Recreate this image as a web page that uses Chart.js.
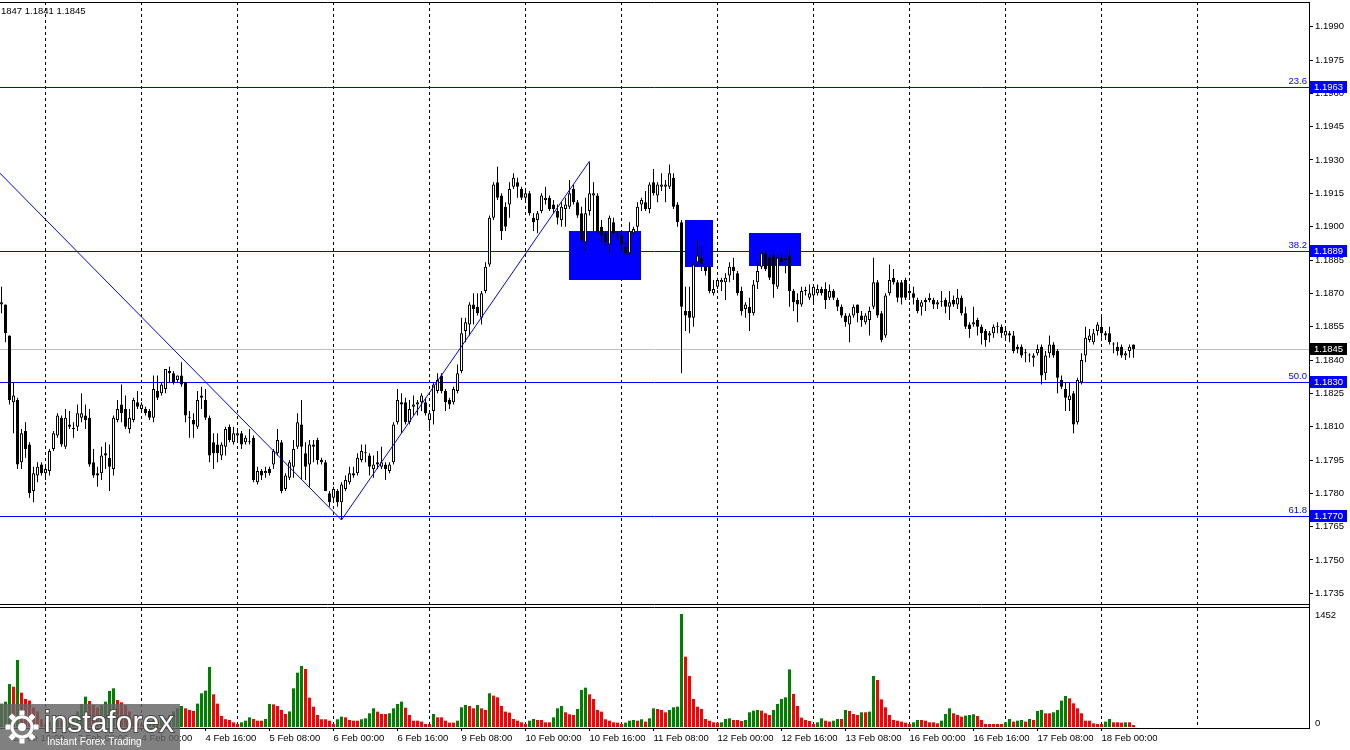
<!DOCTYPE html>
<html lang="en">
<head>
<meta charset="utf-8" />
<title>EURUSD H1</title>
<script src="https://cdn.jsdelivr.net/npm/chart.js@4.4.1/dist/chart.umd.min.js"></script>
<style>
  html, body { margin: 0; padding: 0; background: #fff; }
  canvas { display: block; }
</style>
</head>
<body>
<canvas id="chart" width="1350" height="750"></canvas>
<script>
// H1 bars from 2 Feb 13:00 to 18 Feb 08:00, one entry per bar
var opens = [
  1.1865,1.1865,1.1851,1.1821,1.1822,1.1794,1.1808,1.1802,1.1781,1.1788,1.1793,1.1789,
  1.1790,1.1800,1.1806,1.1814,1.1801,1.1811,1.1809,1.1810,1.1814,1.1815,1.1814,1.1794,
  1.1789,1.1789,1.1798,1.1796,1.1791,1.1813,1.1820,1.1818,1.1809,1.1813,1.1821,1.1818,
  1.1818,1.1817,1.1814,1.1826,1.1825,1.1827,1.1835,1.1834,1.1831,1.1833,1.1830,1.1814,
  1.1813,1.1810,1.1824,1.1822,1.1814,1.1803,1.1802,1.1797,1.1801,1.1810,1.1803,1.1806,
  1.1807,1.1803,1.1803,1.1805,1.1785,1.1790,1.1789,1.1791,1.1793,1.1798,1.1803,1.1782,
  1.1787,1.1792,1.1801,1.1811,1.1798,1.1793,1.1802,1.1804,1.1794,1.1794,1.1780,1.1778,
  1.1781,1.1776,1.1782,1.1785,1.1789,1.1789,1.1795,1.1798,1.1797,1.1791,1.1794,1.1792,
  1.1793,1.1790,1.1794,1.1812,1.1821,1.1821,1.1812,1.1819,1.1820,1.1821,1.1821,1.1813,
  1.1817,1.1826,1.1833,1.1826,1.1822,1.1821,1.1826,1.1835,1.1853,1.1856,1.1865,1.1864,
  1.1859,1.1871,1.1883,1.1904,1.1920,1.1914,1.1909,1.1910,1.1918,1.1920,1.1917,1.1913,
  1.1915,1.1904,1.1903,1.1907,1.1912,1.1913,1.1910,1.1907,1.1903,1.1908,1.1909,1.1917,
  1.1911,1.1906,1.1893,1.1907,1.1914,1.1914,1.1900,1.1897,1.1892,1.1902,1.1896,1.1896,
  1.1891,1.1888,1.1897,1.1900,1.1910,1.1911,1.1908,1.1920,1.1914,1.1918,1.1918,1.1918,
  1.1922,1.1910,1.1902,1.1862,1.1862,1.1859,1.1884,1.1886,1.1882,1.1882,1.1870,1.1873,
  1.1875,1.1875,1.1878,1.1882,1.1879,1.1871,1.1863,1.1864,1.1861,1.1875,1.1882,1.1888,
  1.1886,1.1887,1.1873,1.1886,1.1885,1.1887,1.1871,1.1867,1.1865,1.1871,1.1868,1.1869,
  1.1870,1.1872,1.1872,1.1868,1.1871,1.1867,1.1864,1.1860,1.1856,1.1860,1.1865,1.1860,
  1.1857,1.1858,1.1864,1.1875,1.1861,1.1851,1.1870,1.1877,1.1875,1.1875,1.1876,1.1870,
  1.1870,1.1867,1.1864,1.1867,1.1867,1.1867,1.1865,1.1866,1.1867,1.1864,1.1867,1.1865,
  1.1868,1.1861,1.1856,1.1856,1.1858,1.1855,1.1853,1.1851,1.1852,1.1855,1.1855,1.1851,
  1.1852,1.1851,1.1846,1.1846,1.1843,1.1842,1.1841,1.1843,1.1846,1.1834,1.1843,1.1847,
  1.1844,1.1831,1.1827,1.1822,1.1825,1.1812,1.1830,1.1842,1.1849,1.1848,1.1853,1.1855,
  1.1852,1.1852,1.1847,1.1846,1.1846,1.1842,1.1844,1.1847
];
var highs = [
  1.1873,1.1865,1.1851,1.1830,1.1823,1.1809,1.1812,1.1803,1.1792,1.1794,1.1794,1.1793,
  1.1800,1.1808,1.1816,1.1815,1.1818,1.1817,1.1812,1.1820,1.1825,1.1820,1.1818,1.1800,
  1.1792,1.1801,1.1803,1.1802,1.1815,1.1822,1.1829,1.1824,1.1818,1.1823,1.1826,1.1821,
  1.1819,1.1818,1.1833,1.1833,1.1830,1.1836,1.1837,1.1835,1.1833,1.1839,1.1830,1.1817,
  1.1816,1.1826,1.1828,1.1827,1.1815,1.1807,1.1807,1.1803,1.1810,1.1811,1.1810,1.1809,
  1.1808,1.1806,1.1809,1.1806,1.1792,1.1791,1.1792,1.1792,1.1800,1.1809,1.1804,1.1789,
  1.1795,1.1804,1.1816,1.1822,1.1803,1.1804,1.1804,1.1805,1.1796,1.1795,1.1781,1.1783,
  1.1782,1.1785,1.1788,1.1792,1.1792,1.1798,1.1802,1.1802,1.1798,1.1797,1.1799,1.1801,
  1.1794,1.1794,1.1812,1.1827,1.1825,1.1823,1.1822,1.1824,1.1822,1.1825,1.1823,1.1817,
  1.1830,1.1834,1.1834,1.1827,1.1823,1.1828,1.1838,1.1859,1.1859,1.1866,1.1870,1.1870,
  1.1871,1.1884,1.1905,1.1920,1.1927,1.1915,1.1911,1.1920,1.1924,1.1922,1.1918,1.1916,
  1.1916,1.1906,1.1907,1.1915,1.1918,1.1914,1.1912,1.1910,1.1911,1.1913,1.1921,1.1919,
  1.1912,1.1909,1.1913,1.1929,1.1920,1.1915,1.1903,1.1898,1.1905,1.1904,1.1898,1.1898,
  1.1893,1.1902,1.1900,1.1911,1.1913,1.1916,1.1920,1.1926,1.1920,1.1924,1.1921,1.1928,
  1.1924,1.1911,1.1903,1.1873,1.1873,1.1884,1.1894,1.1891,1.1883,1.1883,1.1876,1.1877,
  1.1877,1.1879,1.1884,1.1886,1.1880,1.1873,1.1866,1.1868,1.1876,1.1884,1.1889,1.1889,
  1.1887,1.1888,1.1887,1.1888,1.1887,1.1890,1.1872,1.1870,1.1873,1.1873,1.1874,1.1874,
  1.1874,1.1873,1.1875,1.1874,1.1872,1.1868,1.1865,1.1861,1.1861,1.1865,1.1865,1.1862,
  1.1861,1.1864,1.1886,1.1876,1.1862,1.1870,1.1883,1.1881,1.1876,1.1876,1.1877,1.1874,
  1.1873,1.1868,1.1867,1.1868,1.1870,1.1868,1.1867,1.1871,1.1868,1.1871,1.1869,1.1872,
  1.1869,1.1864,1.1857,1.1864,1.1859,1.1856,1.1854,1.1853,1.1856,1.1857,1.1856,1.1854,
  1.1853,1.1853,1.1847,1.1847,1.1845,1.1843,1.1843,1.1847,1.1847,1.1844,1.1851,1.1848,
  1.1845,1.1833,1.1830,1.1830,1.1826,1.1832,1.1843,1.1855,1.1854,1.1854,1.1857,1.1860,
  1.1853,1.1855,1.1848,1.1848,1.1847,1.1844,1.1847,1.1847
];
var lows = [
  1.1861,1.1848,1.1820,1.1807,1.1791,1.1791,1.1796,1.1778,1.1776,1.1785,1.1788,1.1786,
  1.1788,1.1799,1.1805,1.1801,1.1800,1.1809,1.1805,1.1808,1.1812,1.1809,1.1792,1.1787,
  1.1783,1.1786,1.1791,1.1781,1.1788,1.1812,1.1812,1.1809,1.1807,1.1812,1.1818,1.1817,
  1.1815,1.1813,1.1812,1.1822,1.1824,1.1825,1.1830,1.1829,1.1830,1.1828,1.1812,1.1805,
  1.1805,1.1809,1.1818,1.1813,1.1794,1.1791,1.1794,1.1795,1.1797,1.1803,1.1802,1.1803,
  1.1800,1.1802,1.1802,1.1785,1.1784,1.1786,1.1787,1.1788,1.1791,1.1797,1.1780,1.1781,
  1.1786,1.1787,1.1800,1.1786,1.1786,1.1783,1.1794,1.1793,1.1793,1.1781,1.1774,1.1777,
  1.1774,1.1768,1.1781,1.1784,1.1787,1.1788,1.1794,1.1794,1.1788,1.1787,1.1791,1.1791,
  1.1786,1.1789,1.1793,1.1811,1.1807,1.1811,1.1811,1.1815,1.1815,1.1817,1.1815,1.1809,
  1.1811,1.1825,1.1825,1.1817,1.1818,1.1820,1.1825,1.1834,1.1848,1.1851,1.1856,1.1860,
  1.1856,1.1870,1.1882,1.1903,1.1912,1.1894,1.1898,1.1904,1.1917,1.1913,1.1912,1.1911,
  1.1905,1.1898,1.1897,1.1906,1.1910,1.1907,1.1906,1.1901,1.1900,1.1900,1.1908,1.1910,
  1.1904,1.1893,1.1889,1.1905,1.1898,1.1897,1.1893,1.1891,1.1888,1.1896,1.1894,1.1889,
  1.1887,1.1887,1.1896,1.1898,1.1907,1.1907,1.1906,1.1914,1.1911,1.1916,1.1911,1.1917,
  1.1908,1.1900,1.1834,1.1853,1.1852,1.1855,1.1882,1.1880,1.1878,1.1870,1.1869,1.1872,
  1.1871,1.1867,1.1875,1.1876,1.1869,1.1860,1.1859,1.1853,1.1860,1.1872,1.1881,1.1880,
  1.1876,1.1868,1.1872,1.1883,1.1879,1.1864,1.1862,1.1857,1.1864,1.1869,1.1867,1.1865,
  1.1869,1.1869,1.1863,1.1867,1.1867,1.1862,1.1859,1.1855,1.1848,1.1859,1.1857,1.1855,
  1.1856,1.1851,1.1863,1.1859,1.1848,1.1850,1.1869,1.1874,1.1866,1.1865,1.1867,1.1867,
  1.1865,1.1861,1.1860,1.1862,1.1866,1.1863,1.1863,1.1864,1.1861,1.1858,1.1864,1.1863,
  1.1860,1.1854,1.1850,1.1855,1.1851,1.1847,1.1846,1.1848,1.1850,1.1852,1.1850,1.1849,
  1.1848,1.1843,1.1843,1.1841,1.1839,1.1839,1.1837,1.1842,1.1829,1.1831,1.1841,1.1841,
  1.1825,1.1827,1.1817,1.1817,1.1807,1.1811,1.1829,1.1839,1.1848,1.1847,1.1851,1.1850,
  1.1849,1.1847,1.1843,1.1842,1.1841,1.1840,1.1841,1.1841
];
var closes = [
  1.1866,1.1852,1.1822,1.1824,1.1793,1.1807,1.1800,1.1780,1.1789,1.1792,1.1789,1.1791,
  1.1799,1.1807,1.1815,1.1802,1.1814,1.1810,1.1809,1.1816,1.1816,1.1813,1.1793,1.1788,
  1.1788,1.1797,1.1797,1.1792,1.1814,1.1818,1.1816,1.1810,1.1814,1.1822,1.1819,1.1820,
  1.1816,1.1814,1.1827,1.1823,1.1829,1.1836,1.1834,1.1830,1.1833,1.1829,1.1815,1.1814,
  1.1811,1.1822,1.1823,1.1814,1.1797,1.1798,1.1798,1.1802,1.1809,1.1804,1.1807,1.1807,
  1.1802,1.1805,1.1803,1.1786,1.1790,1.1788,1.1790,1.1789,1.1799,1.1804,1.1781,1.1788,
  1.1794,1.1800,1.1812,1.1801,1.1792,1.1802,1.1801,1.1795,1.1795,1.1781,1.1776,1.1782,
  1.1776,1.1784,1.1786,1.1789,1.1788,1.1796,1.1799,1.1798,1.1792,1.1793,1.1793,1.1794,
  1.1791,1.1793,1.1811,1.1822,1.1820,1.1812,1.1818,1.1820,1.1821,1.1824,1.1816,1.1816,
  1.1829,1.1831,1.1826,1.1821,1.1820,1.1827,1.1834,1.1852,1.1857,1.1865,1.1863,1.1861,
  1.1870,1.1882,1.1904,1.1919,1.1913,1.1898,1.1900,1.1917,1.1922,1.1918,1.1913,1.1915,
  1.1906,1.1902,1.1906,1.1914,1.1913,1.1908,1.1908,1.1904,1.1909,1.1910,1.1915,1.1911,
  1.1905,1.1894,1.1906,1.1915,1.1915,1.1898,1.1896,1.1893,1.1904,1.1897,1.1896,1.1892,
  1.1888,1.1898,1.1899,1.1909,1.1912,1.1908,1.1919,1.1915,1.1919,1.1919,1.1919,1.1924,
  1.1909,1.1902,1.1864,1.1860,1.1859,1.1883,1.1887,1.1883,1.1880,1.1871,1.1872,1.1876,
  1.1876,1.1877,1.1882,1.1880,1.1870,1.1862,1.1865,1.1861,1.1874,1.1880,1.1888,1.1881,
  1.1877,1.1874,1.1886,1.1884,1.1886,1.1871,1.1866,1.1865,1.1871,1.1871,1.1870,1.1873,
  1.1872,1.1870,1.1867,1.1871,1.1868,1.1864,1.1860,1.1857,1.1860,1.1864,1.1861,1.1858,
  1.1860,1.1862,1.1875,1.1860,1.1849,1.1869,1.1876,1.1875,1.1868,1.1868,1.1868,1.1871,
  1.1868,1.1862,1.1866,1.1866,1.1868,1.1865,1.1866,1.1866,1.1864,1.1866,1.1865,1.1868,
  1.1861,1.1855,1.1854,1.1857,1.1855,1.1852,1.1849,1.1852,1.1855,1.1855,1.1852,1.1853,
  1.1851,1.1844,1.1845,1.1842,1.1843,1.1842,1.1842,1.1845,1.1833,1.1842,1.1847,1.1842,
  1.1832,1.1828,1.1823,1.1824,1.1811,1.1831,1.1840,1.1850,1.1851,1.1852,1.1856,1.1852,
  1.1851,1.1848,1.1847,1.1844,1.1842,1.1843,1.1846,1.1845
];
var volumes = [
  300,325,552,518,861,441,360,340,250,200,100,39,
  60,81,90,81,103,120,150,200,296,390,334,283,
  250,280,325,463,497,347,317,280,200,120,60,39,
  60,81,90,81,103,120,150,200,240,270,240,219,
  206,300,433,467,771,420,300,141,100,90,60,39,
  60,81,124,103,81,81,103,296,291,270,220,167,
  200,497,698,784,745,377,261,154,99,99,81,39,
  99,133,124,90,81,81,99,111,176,240,197,167,
  167,176,240,296,326,248,154,81,81,69,39,39,
  167,124,124,81,56,56,81,253,283,270,240,283,
  240,219,433,403,381,270,197,184,103,81,60,39,
  81,103,90,90,60,60,124,240,270,189,163,154,
  231,475,505,420,360,219,197,99,81,60,56,39,
  56,81,90,81,99,69,111,240,231,219,189,219,
  253,261,1452,904,655,360,261,231,103,81,60,56,
  60,103,111,90,90,77,90,189,210,219,210,176,
  154,219,296,360,381,740,425,270,120,90,77,39,
  60,111,81,69,81,103,103,219,206,167,154,189,
  189,197,655,604,355,253,154,90,81,69,56,39,
  60,90,90,81,60,60,47,81,167,240,176,154,
  133,146,154,163,141,90,39,39,39,39,39,60,
  103,69,81,90,69,103,90,206,219,176,176,189,
  219,339,398,369,304,240,176,81,81,47,39,39,
  69,103,60,60,56,60,60,25
];

var tickLabels = [
  '2 Feb 16:00', '3 Feb 08:00', '4 Feb 00:00', '4 Feb 16:00', '5 Feb 08:00', '6 Feb 00:00',
  '6 Feb 16:00', '9 Feb 08:00', '10 Feb 00:00', '10 Feb 16:00', '11 Feb 08:00', '12 Feb 00:00',
  '12 Feb 16:00', '13 Feb 08:00', '16 Feb 00:00', '16 Feb 16:00', '17 Feb 08:00', '18 Feb 00:00'
];
var firstTickBar = 3, tickStep = 16;     // label every 16 bars
var firstDayBar = 11, dayStep = 24, dayCount = 13;  // dashed line at each 00:00

var priceTicks = [1.1990, 1.1975, 1.1960, 1.1945, 1.1930, 1.1915, 1.1900, 1.1885, 1.1870,
  1.1855, 1.1840, 1.1825, 1.1810, 1.1795, 1.1780, 1.1765, 1.1750, 1.1735];
var volumeTicks = [1452, 0];

var fibLevels = [1.1963, 1.1889, 1.1830, 1.1770];
var fibNames = ['23.6', '38.2', '50.0', '61.8'];
var zigzag = [[-2, 1.1927], [85, 1.1768], [147, 1.19295]];
// [first bar, last bar, top price, bottom price]
var zones = [
  [141.9, 159.9, 1.1898, 1.1876],
  [170.9, 177.8, 1.1903, 1.1882],
  [186.9, 199.8, 1.1897, 1.1882]
];
var priceFloor = 1.1730;

var FONT = { family: 'Liberation Sans', size: 9.5 };
var bars = closes.map(function (c, i) { return i; });

var bodyColors = bars.map(function (i) { return closes[i] >= opens[i] ? '#ffffff' : '#000000'; });
var volColors = bars.map(function (i) {
  return i > 0 && volumes[i] <= volumes[i - 1] ? '#ff0000' : '#008000';
});

function levelY(scale, v) { return Math.round(scale.getPixelForValue(v)) + 0.5; }

var decorations = {
  id: 'decorations',
  beforeDatasetsDraw: function (chart) {
    var ctx = chart.ctx, a = chart.chartArea, xs = chart.scales.x, ys = chart.scales.y;
    ctx.save();
    ctx.beginPath();
    ctx.rect(a.left, a.top, a.right - a.left, a.bottom - a.top);
    ctx.clip();
    ctx.lineWidth = 1;
    // bid line
    ctx.strokeStyle = '#c0c0c0';
    var by = levelY(ys, closes[closes.length - 1]);
    ctx.beginPath(); ctx.moveTo(a.left, by); ctx.lineTo(a.right, by); ctx.stroke();
    // fibo levels
    ctx.strokeStyle = '#0000ff';
    fibLevels.forEach(function (lv) {
      var py = levelY(ys, lv);
      ctx.beginPath(); ctx.moveTo(a.left, py); ctx.lineTo(a.right, py); ctx.stroke();
    });
    // rectangles
    ctx.fillStyle = '#0000ff';
    zones.forEach(function (z) {
      var x0 = xs.getPixelForValue(z[0]), x1 = xs.getPixelForValue(z[1]);
      var y0 = ys.getPixelForValue(z[2]), y1 = ys.getPixelForValue(z[3]);
      ctx.fillRect(Math.round(x0), Math.round(y0), Math.round(x1 - x0), Math.round(y1 - y0));
    });
    ctx.restore();
  },
  afterDraw: function (chart) {
    var ctx = chart.ctx, a = chart.chartArea, ys = chart.scales.y, vs = chart.scales.yv;
    ctx.save();
    ctx.lineWidth = 1;
    ctx.strokeStyle = '#000';
    // top frame and pane separator
    ctx.beginPath();
    ctx.moveTo(a.left, a.top + 0.5); ctx.lineTo(a.right, a.top + 0.5);
    var sy = levelY(ys, priceFloor);
    ctx.moveTo(a.left, sy); ctx.lineTo(a.right, sy);
    ctx.moveTo(a.left, sy + 3); ctx.lineTo(a.right, sy + 3);
    ctx.stroke();

    ctx.font = '9.5px "Liberation Sans"';
    ctx.textBaseline = 'middle';
    // volume scale labels
    ctx.fillStyle = '#000';
    ctx.textAlign = 'left';
    volumeTicks.forEach(function (v, k) {
      var py = vs.getPixelForValue(v);
      ctx.fillText(String(v), a.right + 6, k === 0 ? py + 1 : py - 4);
    });
    // level tags on the price scale
    fibLevels.forEach(function (lv, k) {
      var py = levelY(ys, lv);
      ctx.fillStyle = '#0000ff';
      ctx.textAlign = 'right';
      ctx.fillText(fibNames[k], a.right - 2, py - 6);
      ctx.fillRect(a.right + 1, py - 6.5, 37, 12);
      ctx.fillStyle = '#ffffff';
      ctx.textAlign = 'left';
      ctx.fillText(lv.toFixed(4), a.right + 5, py);
    });
    var last = closes[closes.length - 1];
    var ly = levelY(ys, last);
    ctx.fillStyle = '#000';
    ctx.fillRect(a.right + 1, ly - 6.5, 37, 12);
    ctx.fillStyle = '#fff';
    ctx.fillText(last.toFixed(4), a.right + 5, ly);

    // header values of the last bar
    ctx.fillStyle = '#000';
    ctx.fillText(highs[highs.length - 1].toFixed(4).slice(2) + ' ' +
      lows[lows.length - 1].toFixed(4) + ' ' + last.toFixed(4), 1, 11);

    // watermark
    ctx.fillStyle = 'rgba(100,100,100,0.82)';
    ctx.fillRect(0, 704, 180, 46);
    ctx.strokeStyle = '#ffffff';
    ctx.lineWidth = 3;
    ctx.beginPath(); ctx.arc(22, 727, 10, 0, Math.PI * 2); ctx.stroke();
    ctx.fillStyle = '#ffffff';
    for (var t = 0; t < 8; t++) {
      var ang = t * Math.PI / 4;
      ctx.save();
      ctx.translate(22 + Math.cos(ang) * 14, 727 + Math.sin(ang) * 14);
      ctx.rotate(ang);
      ctx.fillRect(-2.5, -2.5, 5, 5);
      ctx.restore();
    }
    ctx.beginPath(); ctx.arc(22, 727, 4, 0, Math.PI * 2); ctx.fill();
    ctx.textAlign = 'left';
    ctx.textBaseline = 'alphabetic';
    ctx.font = '30px "Liberation Sans"';
    ctx.lineWidth = 2;
    ctx.strokeStyle = 'rgba(70,70,70,0.9)';
    ctx.strokeText('instaforex', 44, 732);
    ctx.fillText('instaforex', 44, 732);
    ctx.font = '10px "Liberation Sans"';
    ctx.fillText('Instant Forex Trading', 47, 745);
    ctx.restore();
  }
};

new Chart(document.getElementById('chart'), {
  data: {
    datasets: [
      {
        type: 'line', order: 0, xAxisID: 'x', yAxisID: 'y',
        data: zigzag.map(function (p) { return { x: p[0], y: p[1] }; }),
        borderColor: '#0000ff', borderWidth: 1, pointRadius: 0, tension: 0
      },
      {
        type: 'bar', order: 1, xAxisID: 'x', yAxisID: 'yv', grouped: false,
        data: bars.map(function (i) { return { x: i, y: volumes[i] }; }),
        backgroundColor: volColors, borderWidth: 0, inflateAmount: 0,
        categoryPercentage: 1, barPercentage: 0.75
      },
      {
        type: 'bar', order: 2, xAxisID: 'x', yAxisID: 'y', grouped: false,
        data: bars.map(function (i) { return { x: i, y: [opens[i], closes[i]] }; }),
        backgroundColor: bodyColors, borderColor: '#000', borderWidth: 1,
        borderSkipped: false, minBarLength: 1, inflateAmount: 0,
        categoryPercentage: 1, barPercentage: 0.75
      },
      {
        type: 'bar', order: 3, xAxisID: 'x', yAxisID: 'y', grouped: false,
        data: bars.map(function (i) { return { x: i, y: [lows[i], highs[i]] }; }),
        backgroundColor: '#000', borderWidth: 0, inflateAmount: 0, minBarLength: 1,
        categoryPercentage: 1, barPercentage: 0.25
      }
    ]
  },
  options: {
    responsive: false,
    animation: false,
    events: [],
    layout: { padding: { top: 2, left: 0, right: 0, bottom: 0 } },
    plugins: { legend: { display: false }, tooltip: { enabled: false } },
    scales: {
      x: {
        type: 'linear', position: 'bottom', bounds: 'data', offset: false,
        min: -0.375, max: 326.875,
        afterBuildTicks: function (s) {
          s.ticks = tickLabels.map(function (t, k) { return { value: firstTickBar + k * tickStep }; });
        },
        afterFit: function (s) { s.height = 22; s.paddingLeft = 0; s.paddingRight = 0; },
        ticks: {
          align: 'start', autoSkip: false, maxRotation: 0, minRotation: 0, padding: 2,
          color: '#000', font: FONT,
          callback: function (v, k) { return tickLabels[k]; }
        },
        grid: { offset: false, drawOnChartArea: false, drawTicks: true, tickLength: 3, color: '#000' },
        border: { display: true, color: '#000', width: 1 }
      },
      days: {
        type: 'linear', position: 'bottom', bounds: 'data', offset: false,
        min: -0.375, max: 326.875,
        afterBuildTicks: function (s) {
          var t = [];
          for (var k = 0; k < dayCount; k++) t.push({ value: firstDayBar + k * dayStep });
          s.ticks = t;
        },
        afterFit: function (s) { s.height = 0; s.paddingLeft = 0; s.paddingRight = 0; },
        ticks: { display: false },
        grid: { offset: false, drawTicks: false, color: '#000', lineWidth: 1 },
        border: { display: false, dash: [3, 3] }
      },
      y: {
        position: 'right', weight: 1, min: 1.16744, max: 1.20011,
        afterBuildTicks: function (s) {
          s.ticks = priceTicks.map(function (v) { return { value: v }; });
        },
        afterFit: function (s) { s.width = 41; s.paddingTop = 0; s.paddingBottom = 0; },
        ticks: {
          padding: 2, color: '#000', font: FONT,
          callback: function (v) { return Number(v).toFixed(4); }
        },
        grid: { drawOnChartArea: false, drawTicks: true, tickLength: 4, color: '#000' },
        border: { display: true, color: '#000', width: 1 }
      },
      yv: { display: false, min: -13, max: 9316 }
    }
  },
  plugins: [decorations]
});
</script>
</body>
</html>
